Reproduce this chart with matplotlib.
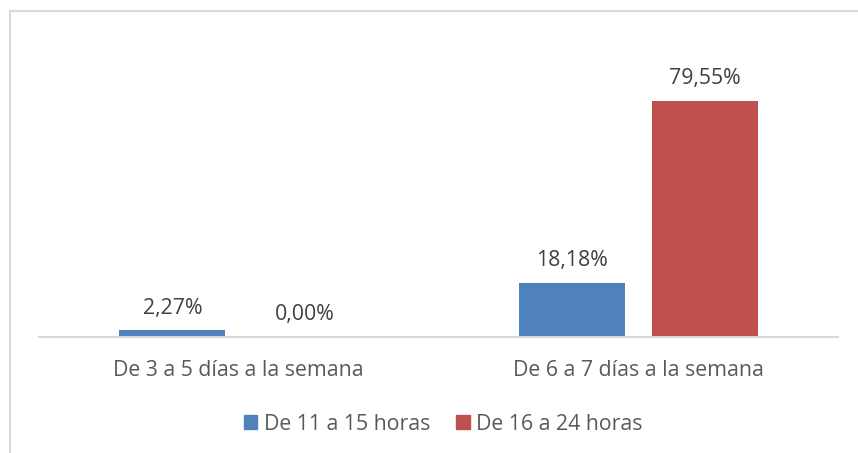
import matplotlib
matplotlib.use("Agg")
import matplotlib.pyplot as plt
from matplotlib.lines import Line2D
from matplotlib.patches import Patch
import numpy as np

categories = ["De 3 a 5 días a la semana", "De 6 a 7 días a la semana"]
series_names = ["De 11 a 15 horas", "De 16 a 24 horas"]
values_11_15 = [2.27, 18.18]
values_16_24 = [0.00, 79.55]
colors = ["#4F81BD", "#C0504D"]

plt.rcParams['font.family'] = ['Open Sans', 'DejaVu Sans']
W, H = 858, 453
FS = 15.3
fig = plt.figure(figsize=(W / 100, H / 100), dpi=100)
fig.patch.set_facecolor("white")

# axes in pixel coords: left 39, right 838, bottom y=337, top y=70
left, right, bottom_px, top_px = 39, 838, 337, 70
ax = fig.add_axes([left / W, 1 - bottom_px / H, (right - left) / W, (bottom_px - top_px) / H])

x = np.arange(len(categories))
bw = 0.265
off = 0.166
b1 = ax.bar(x - off, values_11_15, bw, color=colors[0], label=series_names[0])
b2 = ax.bar(x + off, values_16_24, bw, color=colors[1], label=series_names[1])

ax.set_xlim(-0.5, len(categories) - 0.5)
ax.set_ylim(0, 90)
for s in ["top", "right", "left"]:
    ax.spines[s].set_visible(False)
ax.spines["bottom"].set_color("#D9D9D9")
ax.spines["bottom"].set_linewidth(1.5)
ax.set_yticks([])
ax.set_xticks(x)
ax.set_xticklabels(categories, fontsize=FS, color="#595959")
ax.tick_params(axis="x", length=0, pad=16.5)

def fmt(v):
    return f"{v:.2f}".replace(".", ",") + "%"

for bars in (b1, b2):
    for rect in bars:
        v = rect.get_height()
        ax.annotate(fmt(v), (rect.get_x() + rect.get_width() / 2, v),
                    xytext=(0, 16.0), textcoords="offset points",
                    ha="center", va="center", fontsize=FS, color="#404040")

handles = [Patch(color=c) for c in colors]
fig.legend(handles, series_names, loc="center", bbox_to_anchor=(443 / W, 1 - 424 / H),
           ncol=2, frameon=False, fontsize=FS, handlelength=0.65, handleheight=0.65,
           handletextpad=0.3, columnspacing=1.2, labelcolor="#595959")

# chart border (only top and left visible)
fig.add_artist(Line2D([10 / W, 1.0], [1 - 11 / H, 1 - 11 / H], transform=fig.transFigure,
                      color="#D9D9D9", lw=1.5))
fig.add_artist(Line2D([10 / W, 10 / W], [0, 1 - 11 / H], transform=fig.transFigure,
                      color="#D9D9D9", lw=1.5))

fig.savefig("out.png", dpi=100, facecolor="white")
